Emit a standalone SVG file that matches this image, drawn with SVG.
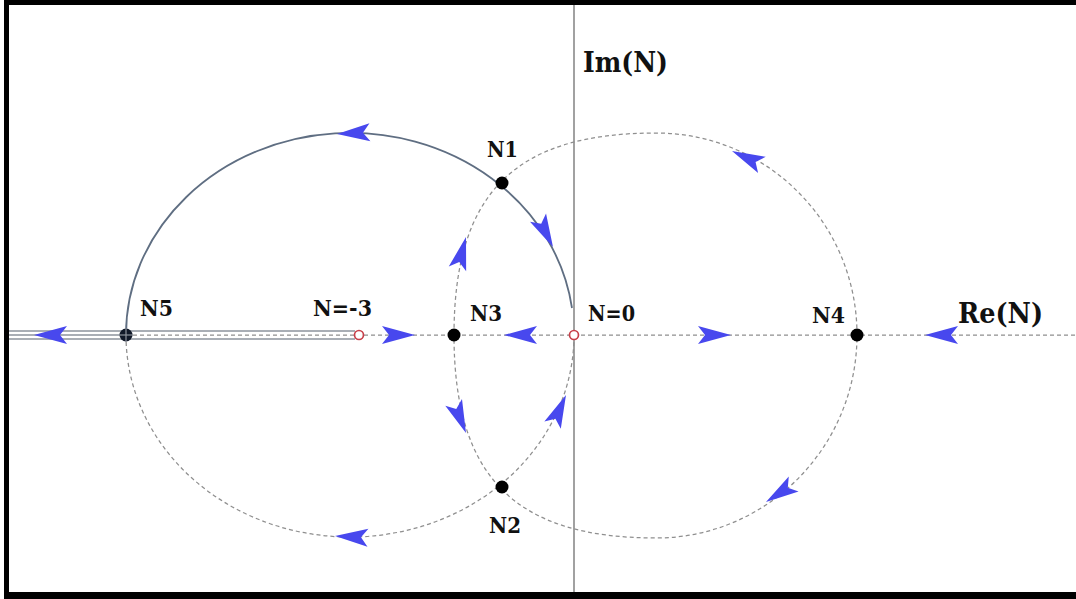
<svg xmlns="http://www.w3.org/2000/svg" width="1076" height="599" viewBox="0 0 1076 599">
<style>
.lbl{font-family:"DejaVu Serif","Liberation Serif",serif;font-weight:bold;font-size:23px;fill:#111}
.ax{font-family:"DejaVu Serif","Liberation Serif",serif;font-weight:bold;font-size:27px;fill:#111}
.dash{fill:none;stroke:#8f8f8f;stroke-width:1.25;stroke-dasharray:4 3}
.solid{fill:none;stroke:#5f6e82;stroke-width:1.8}
.band{fill:none;stroke:#8d939c;stroke-width:1.3}
.dot{fill:#000}
.red{fill:#fff;stroke:#c8404a;stroke-width:1.7}
</style>
<defs>
<path id="ah" d="M0,0 L-33,-9 L-26,0 L-33,9 Z" fill="#4848ee"/>
</defs>
<rect x="0" y="0" width="1076" height="599" fill="#fff"/>
<g id="frame" fill="#000">
<rect x="4" y="0" width="1072" height="5"/>
<rect x="4" y="0" width="5" height="599"/>
<rect x="4" y="592" width="1072" height="7"/>
</g>
<g id="connectors">
<line x1="574" y1="5" x2="574" y2="592" stroke="#8a8a8a" stroke-width="1.6"/>
<line class="dash" x1="126" y1="335" x2="1076" y2="335"/>
<line class="band" x1="9" y1="331" x2="126" y2="331"/>
<line class="band" x1="9" y1="335" x2="126" y2="335"/>
<line class="band" x1="9" y1="339" x2="126" y2="339"/>
<line class="band" x1="126" y1="331" x2="355" y2="331"/>
<line class="band" x1="126" y1="339" x2="355" y2="339"/>
<path class="solid" d="M126,335 A224,202 0 0 1 572,308"/>
<path class="dash" d="M126,335 A224,202 0 0 0 574,335"/>
<path class="dash" d="M454,335 C454,193 515,133 656,133 C767,133 857,223 857,335 C857,447 767,538 656,538 C515,538 454,477 454,335 Z"/>
<g id="arrows">
<use href="#ah" transform="translate(34 335) rotate(180)"/>
<use href="#ah" transform="translate(415 335)"/>
<use href="#ah" transform="translate(504 335) rotate(180)"/>
<use href="#ah" transform="translate(731 335)"/>
<use href="#ah" transform="translate(925 335) rotate(180)"/>
<use href="#ah" transform="translate(337 134) rotate(177)"/>
<use href="#ah" transform="translate(553 247) rotate(63)"/>
<use href="#ah" transform="translate(466 237) rotate(-75)"/>
<use href="#ah" transform="translate(466 433) rotate(68)"/>
<use href="#ah" transform="translate(566 395) rotate(-66)"/>
<use href="#ah" transform="translate(335 536) rotate(183)"/>
<use href="#ah" transform="translate(732 151) rotate(205)"/>
<use href="#ah" transform="translate(766 502) rotate(147)"/>
</g>
</g>
<g id="N5">
<circle cx="126" cy="335" r="6.5" fill="#101828"/>
<line x1="119" y1="335" x2="133" y2="335" stroke="#8d939c" stroke-width="1.2"/>
<line x1="126" y1="328" x2="126" y2="342" stroke="#8d939c" stroke-width="1.2"/>
<text class="lbl" x="140" y="316" textLength="33" lengthAdjust="spacingAndGlyphs">N5</text>
</g>
<g id="Nm3">
<circle class="red" cx="359" cy="335" r="4.5"/>
<text class="lbl" x="313" y="316" textLength="59" lengthAdjust="spacingAndGlyphs">N=-3</text>
</g>
<g id="N3">
<circle class="dot" cx="454" cy="335" r="6.5"/>
<text class="lbl" x="470" y="321" textLength="32" lengthAdjust="spacingAndGlyphs">N3</text>
</g>
<g id="N0">
<circle class="red" cx="574" cy="335" r="4.5"/>
<text class="lbl" x="588" y="321" textLength="47" lengthAdjust="spacingAndGlyphs">N=0</text>
</g>
<g id="N4">
<circle class="dot" cx="857" cy="335" r="6.5"/>
<text class="lbl" x="812" y="323" textLength="33" lengthAdjust="spacingAndGlyphs">N4</text>
</g>
<g id="N1">
<circle class="dot" cx="502" cy="183" r="6.5"/>
<text class="lbl" x="487" y="157" textLength="31" lengthAdjust="spacingAndGlyphs">N1</text>
</g>
<g id="N2">
<circle class="dot" cx="502" cy="487" r="6.5"/>
<text class="lbl" x="489" y="533" textLength="32" lengthAdjust="spacingAndGlyphs">N2</text>
</g>
<g id="ReN">
<text class="ax" x="958" y="323" textLength="85" lengthAdjust="spacingAndGlyphs">Re(N)</text>
</g>
<g id="ImN">
<text class="ax" x="583" y="72" textLength="85" lengthAdjust="spacingAndGlyphs">Im(N)</text>
</g>
</svg>
